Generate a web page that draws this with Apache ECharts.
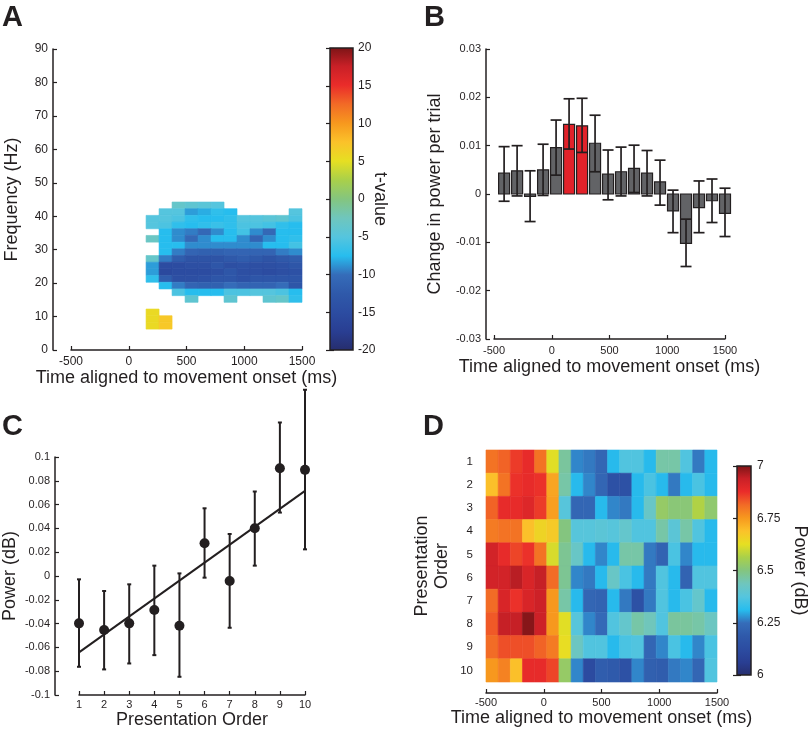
<!DOCTYPE html>
<html><head><meta charset="utf-8">
<script src="https://cdn.jsdelivr.net/npm/echarts@6/dist/echarts.min.js"></script>
<style>html,body{margin:0;padding:0;background:#fff}#c{width:810px;height:731px}</style>
</head><body><div id="c"></div>
<script>
// ---------------- DATA ----------------
var N = null;
// Panel A: t-value map (time bin centers, frequency bin centers)
var aTimeCenters = [206.25, 318.75, 431.25, 543.75, 656.25, 768.75, 881.25, 993.75, 1106.25, 1218.75, 1331.25, 1443.75];
var aFreqCenters = [43.25, 41.25, 39.25, 37.25, 35.25, 33.25, 31.25, 29.25, 27.25, 25.25, 23.25, 21.25, 19.25, 17.25, 15.25, 13.25, 11.25, 9.25, 7.25];
var aTValues = [
  [N, N, -3.5, -4, -4.5, -5, N, N, N, N, N, N],
  [N, -5, -5, -8.5, -8, -7, -7.5, N, N, N, N, -5],
  [-5, -5, -5.5, -7, -7.5, -7.5, -7, -5, -5, -4.5, -4, -5.5],
  [-5, -5.5, -7, -7.5, -7, -6.5, -7, -5.5, -5.5, -6, -7, -7.5],
  [N, -7.5, -9, -9.5, -10.5, -9, -7.5, -6, -9, -10.5, -7.5, -7.5],
  [-3, -7.5, -9, -10.5, -9, -7.5, -7.5, -9, -11, -9, -7.5, -7],
  [N, -7.5, -7.5, -9, -9, -9, -9, -9, -9, -7.5, -7.5, -6],
  [N, -7.5, -9.5, -11, -11.5, -11.5, -11, -11, -11, -11, -9.5, -9],
  [-3.5, -9.5, -12, -13.5, -13.5, -13.5, -12.5, -12, -12.5, -13.5, -12.5, -12],
  [-8.5, -15, -15, -14.5, -14.5, -13, -14.5, -14, -14.5, -14.5, -14, -13],
  [-8.5, -15.5, -15, -15, -15, -14.5, -13, -14.5, -14.5, -15, -14.5, -14],
  [-7, -12, -14.5, -14.5, -14, -13, -13, -14, -13, -13, -13, -13],
  [N, -7.5, -9.5, -11, -11.5, -11.5, -10, -11, -11, -11, -10, -13],
  [N, N, -5.5, -7.5, -7.5, -7.5, -5.5, -5.5, -5, -5, -5.5, -7.5],
  [N, N, N, -4, N, N, -4, N, N, -4, -3.5, -7],
  [N, N, N, N, N, N, N, N, N, N, N, N],
  [5.5, N, N, N, N, N, N, N, N, N, N, N],
  [5.5, 7, N, N, N, N, N, N, N, N, N, N],
  [5.5, 7, N, N, N, N, N, N, N, N, N, N]
];
var aXTicks = [-500, 1500, 500];
var aYTicks = [0, 90, 10];
var aColorbarRange = [-20, 20, 5];

// Panel B: change in power per trial
var bTimes = [-412.5, -300, -187.5, -75, 37.5, 150, 262.5, 375, 487.5, 600, 712.5, 825, 937.5, 1050, 1162.5, 1275, 1387.5, 1500];
var bValues = [0.0043, 0.0048, -0.0005, 0.0050, 0.0096, 0.0144, 0.0141, 0.0105, 0.0041, 0.0046, 0.0053, 0.0043, 0.0025, -0.0035, -0.0102, -0.0028, -0.0014, -0.0040];
var bErrLow = [-0.0015, -0.0004, -0.0057, -0.0003, 0.0039, 0.0093, 0.0086, 0.0046, -0.0012, -0.0004, 0.0003, -0.0004, -0.0023, -0.0080, -0.0150, -0.0080, -0.0059, -0.0088];
var bErrHigh = [0.0098, 0.0100, 0.0048, 0.0103, 0.0153, 0.0197, 0.0198, 0.0163, 0.0091, 0.0097, 0.0101, 0.0090, 0.0070, 0.0008, -0.0052, 0.0027, 0.0031, 0.0012];
var bSignificant = [0, 0, 0, 0, 0, 1, 1, 0, 0, 0, 0, 0, 0, 0, 0, 0, 0, 0];
var bXTicks = [-500, 1500, 500];
var bYTicks = [-0.03, 0.03, 0.01];

// Panel C: power by presentation order
var cOrder = [1, 2, 3, 4, 5, 6, 7, 8, 9, 10];
var cPower = [-0.0398, -0.0454, -0.0398, -0.0286, -0.0418, 0.0275, -0.0042, 0.0401, 0.0906, 0.0892];
var cLow = [-0.0763, -0.0785, -0.0735, -0.0665, -0.0847, -0.0014, -0.0435, 0.0087, 0.0533, 0.0224];
var cHigh = [-0.0028, -0.0126, -0.0070, 0.0087, 0.0022, 0.0569, 0.0353, 0.0710, 0.1290, 0.1565];
var cFitX = [1, 10];
var cFitY = [-0.0642, 0.0715];
var cXTicks = [1, 10, 1];
var cYTicks = [-0.1, 0.1, 0.02];

// Panel D: power (dB) by presentation order and time
var dTimeCenters = [-447.4, -342.1, -236.8, -131.6, -26.3, 78.9, 184.2, 289.5, 394.7, 500, 605.3, 710.5, 815.8, 921.1, 1026.3, 1131.6, 1236.8, 1342.1, 1447.4];
var dOrders = ['1', '2', '3', '4', '5', '6', '7', '8', '9', '10'];
var dPower = [
  [6.80, 6.82, 6.86, 6.88, 6.80, 6.62, 6.47, 6.27, 6.26, 6.23, 6.31, 6.37, 6.37, 6.31, 6.46, 6.46, 6.37, 6.26, 6.31],
  [6.69, 6.80, 6.87, 6.88, 6.87, 6.73, 6.46, 6.31, 6.27, 6.23, 6.15, 6.15, 6.31, 6.36, 6.31, 6.26, 6.31, 6.36, 6.31],
  [6.82, 6.88, 6.88, 6.90, 6.86, 6.74, 6.38, 6.23, 6.23, 6.31, 6.27, 6.26, 6.31, 6.42, 6.53, 6.51, 6.51, 6.57, 6.52],
  [6.79, 6.80, 6.80, 6.69, 6.65, 6.67, 6.50, 6.38, 6.38, 6.39, 6.38, 6.41, 6.37, 6.37, 6.46, 6.39, 6.46, 6.37, 6.31],
  [6.92, 6.88, 6.85, 6.87, 6.80, 6.61, 6.48, 6.42, 6.31, 6.27, 6.31, 6.46, 6.46, 6.26, 6.22, 6.36, 6.27, 6.31, 6.31],
  [6.92, 6.92, 6.95, 6.91, 6.94, 6.81, 6.48, 6.27, 6.26, 6.31, 6.42, 6.36, 6.31, 6.26, 6.37, 6.31, 6.22, 6.37, 6.37],
  [6.81, 6.91, 6.87, 6.91, 6.93, 6.75, 6.46, 6.31, 6.23, 6.22, 6.31, 6.26, 6.15, 6.26, 6.37, 6.31, 6.36, 6.41, 6.31],
  [6.83, 6.94, 6.94, 6.99, 6.93, 6.75, 6.62, 6.38, 6.27, 6.24, 6.37, 6.41, 6.46, 6.44, 6.37, 6.47, 6.47, 6.46, 6.43],
  [6.81, 6.84, 6.84, 6.84, 6.82, 6.79, 6.63, 6.43, 6.37, 6.37, 6.31, 6.36, 6.37, 6.23, 6.27, 6.36, 6.31, 6.27, 6.36],
  [6.75, 6.78, 6.69, 6.88, 6.88, 6.85, 6.53, 6.27, 6.12, 6.20, 6.19, 6.15, 6.27, 6.21, 6.20, 6.26, 6.27, 6.23, 6.37]
];
var dXTicks = [-500, 1500, 500];
var dColorbarRange = [6, 7, 0.25];

// ---------------- STYLE ----------------
var FONT = "'Liberation Sans', Arial, Helvetica, sans-serif";
var INK = '#231f20';
var CMAP = ['#262d6c', '#293e92', '#2c4ca1', '#2f59aa', '#356cb9', '#27bdee', '#55c5de', '#6fc6bd', '#84c57f',
            '#a9d04a', '#e6df22', '#fbc22a', '#f7981e', '#f26a26', '#ea2c2a', '#c92027', '#7b1416'];

// ---------------- BUILD ----------------
var aData = [];
aFreqCenters.forEach(function (f, r) {
  aTimeCenters.forEach(function (t, c) {
    var v = aTValues[r][c];
    if (v !== null) aData.push([t, f, v]);
  });
});
var aDt = aTimeCenters[1] - aTimeCenters[0];
var aDf = aFreqCenters[0] - aFreqCenters[1];

var bData = bTimes.map(function (t, i) { return [t, bValues[i], bErrLow[i], bErrHigh[i], bSignificant[i]]; });
var cPoints = cOrder.map(function (x, i) { return [x, cPower[i]]; });
var cErr = cOrder.map(function (x, i) { return [x, cLow[i], cHigh[i]]; });
var cFit = cFitX.map(function (x, i) { return [x, cFitY[i]]; });

var dData = [];
dPower.forEach(function (row, r) {
  row.forEach(function (v, c) { dData.push([dTimeCenters[c], r, v]); });
});
var dDt = dTimeCenters[1] - dTimeCenters[0];

function gradientFill() {
  return new echarts.graphic.LinearGradient(0, 1, 0, 0, CMAP.map(function (c, i) {
    return { offset: i / (CMAP.length - 1), color: c };
  }));
}

function txt(size, extra) {
  var o = { fontFamily: FONT, fontSize: size, color: INK };
  for (var k in extra) o[k] = extra[k];
  return o;
}
function plain(v) { return String(+v.toFixed(6)); }

function valueAxis(grid, range, extra) {
  var o = {
    type: 'value', gridIndex: grid, min: range[0], max: range[1], interval: range[2],
    axisLine: { show: true, onZero: false, lineStyle: { color: INK, width: 1.5 } },
    axisTick: { show: true, inside: true, length: 4, lineStyle: { color: INK, width: 1.2 } },
    axisLabel: txt(11, { margin: 5, formatter: plain }),
    splitLine: { show: false },
    nameTextStyle: txt(18),
    nameLocation: 'middle'
  };
  for (var k in extra) o[k] = extra[k];
  return o;
}

function hiddenAxis(grid) {
  return { type: 'value', gridIndex: grid, min: 0, max: 1, show: false };
}

var TIME_NAME = 'Time aligned to movement onset (ms)';

var option = {
  animation: false,
  backgroundColor: '#ffffff',
  textStyle: { fontFamily: FONT },
  grid: [
    { left: 71, top: 49, width: 231, height: 301 },   // 0 A
    { left: 330, top: 48, width: 23, height: 302 },   // 1 A colorbar
    { left: 494, top: 49, width: 231, height: 290 },  // 2 B
    { left: 78, top: 457, width: 227, height: 238 },  // 3 C
    { left: 486, top: 450, width: 231, height: 232 }, // 4 D
    { left: 737, top: 466, width: 20, height: 209 }   // 5 D colorbar
  ],
  xAxis: [
    valueAxis(0, aXTicks, { name: TIME_NAME, nameGap: 18, axisLabel: txt(12, { margin: 6, formatter: plain }) }),
    hiddenAxis(1),
    valueAxis(2, bXTicks, { name: TIME_NAME, nameGap: 19, axisLabel: txt(11, { margin: 6, formatter: plain }) }),
    valueAxis(3, cXTicks, { name: 'Presentation Order', nameGap: 14, axisLabel: txt(11, { margin: 4, formatter: plain }) }),
    valueAxis(4, dXTicks, { name: TIME_NAME, offset: 11, nameGap: 16, axisLabel: txt(11, { margin: 4, formatter: plain }) }),
    hiddenAxis(5)
  ],
  yAxis: [
    valueAxis(0, aYTicks, { name: 'Frequency (Hz)', offset: 18, nameGap: 32, axisLabel: txt(12, { margin: 5, formatter: plain }) }),
    valueAxis(1, aColorbarRange, { position: 'right', name: 't-value', nameRotate: -90, nameGap: 18, nameMoveOverlap: false,
      axisLine: { show: false }, axisLabel: txt(12, { margin: 5, formatter: plain }) }),
    valueAxis(2, bYTicks, { name: 'Change in power per trial', offset: 8, nameGap: 42 }),
    valueAxis(3, cYTicks, { name: 'Power (dB)', offset: 24, nameGap: 36 }),
    {
      type: 'category', gridIndex: 4, data: dOrders, inverse: true,
      axisLine: { show: false }, axisTick: { show: false },
      axisLabel: txt(11.5, { margin: 13 }),
      name: 'Presentation\nOrder', nameLocation: 'middle', nameGap: 34,
      nameTextStyle: txt(18, { lineHeight: 20 })
    },
    valueAxis(5, dColorbarRange, { position: 'right', name: 'Power (dB)', nameRotate: -90, nameGap: 40,
      axisLine: { show: false }, axisLabel: txt(12, { margin: 6, formatter: plain }) }),
    valueAxis(1, aColorbarRange, { position: 'left', axisLine: { show: false }, axisLabel: { show: false } }),
    valueAxis(5, dColorbarRange, { position: 'left', axisLine: { show: false }, axisLabel: { show: false } })
  ],
  visualMap: [
    { type: 'continuous', show: false, seriesIndex: 0, dimension: 2, min: aColorbarRange[0], max: aColorbarRange[1], inRange: { color: CMAP } },
    { type: 'continuous', show: false, seriesIndex: 6, dimension: 2, min: dColorbarRange[0], max: dColorbarRange[1], inRange: { color: CMAP } }
  ],
  series: [
    { // 0 A heatmap
      type: 'custom', xAxisIndex: 0, yAxisIndex: 0, data: aData, encode: { x: 0, y: 1 },
      renderItem: function (params, api) {
        var t = api.value(0), f = api.value(1);
        var p1 = api.coord([t - aDt / 2, f + aDf / 2]);
        var p2 = api.coord([t + aDt / 2, f - aDf / 2]);
        var col = api.visual('color');
        return { type: 'rect', shape: { x: p1[0], y: p1[1], width: p2[0] - p1[0], height: p2[1] - p1[1] },
          style: { fill: col, stroke: col, lineWidth: 0.6 } };
      }
    },
    { // 1 A colorbar
      type: 'custom', xAxisIndex: 1, yAxisIndex: 1, data: [[0, aColorbarRange[0], aColorbarRange[1]]], encode: { x: 0, y: 1 },
      renderItem: function (params, api) {
        var p1 = api.coord([0, api.value(2)]);
        var p2 = api.coord([1, api.value(1)]);
        return { type: 'rect', shape: { x: p1[0], y: p1[1], width: p2[0] - p1[0], height: p2[1] - p1[1] },
          style: { fill: gradientFill(), stroke: INK, lineWidth: 1.5 } };
      }
    },
    { // 2 B bars with error bars
      type: 'custom', xAxisIndex: 2, yAxisIndex: 2, data: bData, clip: false, encode: { x: 0, y: [1, 2, 3] },
      renderItem: function (params, api) {
        var t = api.value(0), v = api.value(1), lo = api.value(2), hi = api.value(3), sig = api.value(4);
        var BAR_W = 11, CAP = 5.5;
        var top = api.coord([t, v]), zero = api.coord([t, 0]);
        var pl = api.coord([t, lo]), ph = api.coord([t, hi]);
        var y0 = Math.min(top[1], zero[1]), h = Math.abs(top[1] - zero[1]);
        var lineStyle = { stroke: INK, lineWidth: 1.7 };
        return { type: 'group', children: [
          { type: 'rect', shape: { x: top[0] - BAR_W / 2, y: y0, width: BAR_W, height: Math.max(h, 0.5) },
            style: { fill: sig ? '#e2222a' : '#626366', stroke: INK, lineWidth: 1.2 } },
          { type: 'line', shape: { x1: pl[0], y1: pl[1], x2: ph[0], y2: ph[1] }, style: lineStyle },
          { type: 'line', shape: { x1: pl[0] - CAP, y1: pl[1], x2: pl[0] + CAP, y2: pl[1] }, style: lineStyle },
          { type: 'line', shape: { x1: ph[0] - CAP, y1: ph[1], x2: ph[0] + CAP, y2: ph[1] }, style: lineStyle }
        ] };
      }
    },
    { // 3 C error bars
      type: 'custom', xAxisIndex: 3, yAxisIndex: 3, data: cErr, clip: false, encode: { x: 0, y: [1, 2] },
      renderItem: function (params, api) {
        var x = api.value(0);
        var pl = api.coord([x, api.value(1)]), ph = api.coord([x, api.value(2)]);
        var CAP = 2, st = { stroke: INK, lineWidth: 2 };
        return { type: 'group', children: [
          { type: 'line', shape: { x1: pl[0], y1: pl[1], x2: ph[0], y2: ph[1] }, style: st },
          { type: 'line', shape: { x1: pl[0] - CAP, y1: pl[1], x2: pl[0] + CAP, y2: pl[1] }, style: st },
          { type: 'line', shape: { x1: ph[0] - CAP, y1: ph[1], x2: ph[0] + CAP, y2: ph[1] }, style: st }
        ] };
      }
    },
    { // 4 C regression line
      type: 'line', xAxisIndex: 3, yAxisIndex: 3, data: cFit, symbol: 'none',
      lineStyle: { color: INK, width: 2 }, z: 3
    },
    { // 5 C points
      type: 'scatter', xAxisIndex: 3, yAxisIndex: 3, data: cPoints, symbol: 'circle', symbolSize: 10,
      itemStyle: { color: INK, opacity: 1 }, z: 4
    },
    { // 6 D heatmap
      type: 'custom', xAxisIndex: 4, yAxisIndex: 4, data: dData, encode: { x: 0, y: 1 },
      renderItem: function (params, api) {
        var t = api.value(0), r = api.value(1);
        var p1 = api.coord([t - dDt / 2, r]);
        var p2 = api.coord([t + dDt / 2, r]);
        var hh = api.size([0, 1])[1];
        var col = api.visual('color');
        return { type: 'rect', shape: { x: p1[0], y: p1[1] - hh / 2, width: p2[0] - p1[0], height: hh },
          style: { fill: col, stroke: col, lineWidth: 0.6 } };
      }
    },
    { // 7 D colorbar
      type: 'custom', xAxisIndex: 5, yAxisIndex: 5, data: [[0, dColorbarRange[0], dColorbarRange[1]]], encode: { x: 0, y: 1 },
      renderItem: function (params, api) {
        var p1 = api.coord([0, api.value(2)]);
        var p2 = api.coord([1, api.value(1)]);
        return { type: 'rect', shape: { x: p1[0], y: p1[1], width: p2[0] - p1[0], height: p2[1] - p1[1] },
          style: { fill: gradientFill(), stroke: INK, lineWidth: 1.5 } };
      }
    }
  ],
  graphic: [
    { type: 'text', left: 2, top: 3, style: { text: 'A', font: 'bold 29px ' + FONT, fill: INK } },
    { type: 'text', left: 424, top: 3, style: { text: 'B', font: 'bold 29px ' + FONT, fill: INK } },
    { type: 'text', left: 2, top: 412, style: { text: 'C', font: 'bold 29px ' + FONT, fill: INK } },
    { type: 'text', left: 423, top: 412, style: { text: 'D', font: 'bold 29px ' + FONT, fill: INK } }
  ]
};

var chart = echarts.init(document.getElementById('c'), null, { renderer: 'canvas', width: 810, height: 731 });
chart.setOption(option);
</script></body></html>
